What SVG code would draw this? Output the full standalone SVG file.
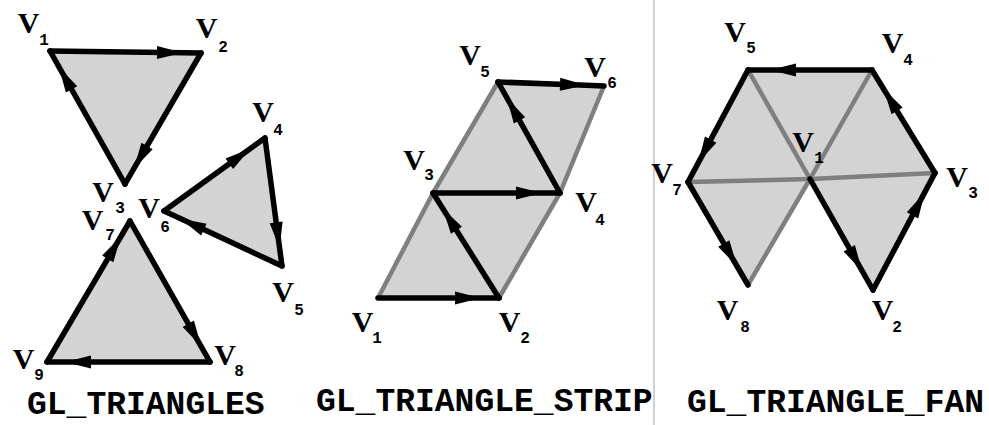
<svg xmlns="http://www.w3.org/2000/svg" width="989" height="425" viewBox="0 0 989 425">
<style>
.fill{fill:#d3d3d3;stroke:none}
.grey{fill:none;stroke:#7f7f7f;stroke-width:4.5;stroke-linecap:round;stroke-linejoin:round}
.blk{fill:none;stroke:#000;stroke-width:5.5;stroke-linecap:round;stroke-linejoin:round;marker-mid:url(#ah)}
.v{font-family:"Liberation Serif",serif;font-weight:bold;font-size:30px;fill:#000;text-anchor:middle}
.s{font-family:"Liberation Mono",monospace;font-weight:bold;font-size:16px;fill:#000;text-anchor:middle}
.t{font-family:"Liberation Mono",monospace;font-weight:bold;font-size:33px;fill:#000}
</style>
<defs>
<marker id="ah" markerUnits="userSpaceOnUse" markerWidth="30" markerHeight="16" refX="26" refY="8" orient="auto" overflow="visible">
<path d="M0,1.5 L26,8 L0,14.5 Z" fill="#000"/>
</marker>
</defs>
<rect width="989" height="425" fill="#fff"/>
<line x1="654" y1="0" x2="654" y2="425" stroke="#d0d0d0" stroke-width="2"/>

<g id="triangles">
<polygon class="fill" points="50,51 201,53 125,184"/>
<polygon class="fill" points="265,138 282,266 164,211"/>
<polygon class="fill" points="130,221 210,362 47,362"/>
</g>
<g id="strip-fill">
<polygon class="fill" points="378,298 499,298 560,193 604,86 498,82 433,193"/>
</g>
<g id="fan-fill">
<polygon class="fill" points="810,179 873,290 935,173 872,70 748,70 688,182 748,285"/>
</g>

<g id="connectors">
<polyline class="grey" points="378,298 433,193 498,82"/>
<polyline class="grey" points="499,298 560,193 604,86"/>
<line class="grey" x1="810" y1="179" x2="935" y2="173"/>
<line class="grey" x1="810" y1="179" x2="872" y2="70"/>
<line class="grey" x1="810" y1="179" x2="748" y2="70"/>
<line class="grey" x1="810" y1="179" x2="688" y2="182"/>
<line class="grey" x1="810" y1="179" x2="748" y2="285"/>

<polyline class="blk" points="50,51 183,52.8 201,53"/>
<polyline class="blk" points="201,53 134,168.4 125,184"/>
<polyline class="blk" points="125,184 58.8,66.7 50,51"/>
<polyline class="blk" points="265,138 279.6,248.2 282,266"/>
<polyline class="blk" points="282,266 180.3,218.6 164,211"/>
<polyline class="blk" points="164,211 250.4,148.5 265,138"/>
<polyline class="blk" points="130,221 201.1,346.3 210,362"/>
<polyline class="blk" points="210,362 65,362 47,362"/>
<polyline class="blk" points="47,362 120.9,236.5 130,221"/>

<polyline class="blk" points="378,298 481,298 499,298"/>
<polyline class="blk" points="499,298 442.6,208.2 433,193"/>
<polyline class="blk" points="433,193 542,193 560,193"/>
<polyline class="blk" points="560,193 506.8,97.7 498,82"/>
<polyline class="blk" points="498,82 586,85.3 604,86"/>

<polyline class="blk" points="810,179 862.1,270.9 873,290"/>
<polyline class="blk" points="873,290 924.7,192.4 935,173"/>
<polyline class="blk" points="935,173 883.5,88.8 872,70"/>
<polyline class="blk" points="872,70 770,70 748,70"/>
<polyline class="blk" points="748,70 698.4,162.6 688,182"/>
<polyline class="blk" points="688,182 736.9,266 748,285"/>
</g>

<g id="labels-triangles">
<text class="v" x="28.5" y="33">V<tspan class="s" x="44" y="45">1</tspan></text>
<text class="v" x="206.5" y="38">V<tspan class="s" x="223" y="52">2</tspan></text>
<text class="v" x="103" y="202">V<tspan class="s" x="120" y="213">3</tspan></text>
<text class="v" x="263" y="122">V<tspan class="s" x="278" y="135">4</tspan></text>
<text class="v" x="283" y="302">V<tspan class="s" x="299" y="315">5</tspan></text>
<text class="v" x="149" y="218">V<tspan class="s" x="165" y="232">6</tspan></text>
<text class="v" x="92.5" y="230">V<tspan class="s" x="110" y="240">7</tspan></text>
<text class="v" x="225" y="365">V<tspan class="s" x="239" y="376">8</tspan></text>
<text class="v" x="23.5" y="369">V<tspan class="s" x="39" y="380">9</tspan></text>
</g>

<g id="labels-strip">
<text class="v" x="362.5" y="332">V<tspan class="s" x="377" y="343">1</tspan></text>
<text class="v" x="509.5" y="332">V<tspan class="s" x="525" y="343">2</tspan></text>
<text class="v" x="414" y="170">V<tspan class="s" x="429" y="180">3</tspan></text>
<text class="v" x="586" y="212">V<tspan class="s" x="600" y="225">4</tspan></text>
<text class="v" x="470" y="65">V<tspan class="s" x="485" y="77">5</tspan></text>
<text class="v" x="595" y="77">V<tspan class="s" x="612" y="88">6</tspan></text>
</g>

<g id="labels-fan">
<text class="v" x="803" y="152">V<tspan class="s" x="819" y="163">1</tspan></text>
<text class="v" x="882.5" y="320">V<tspan class="s" x="897" y="332">2</tspan></text>
<text class="v" x="957" y="187">V<tspan class="s" x="973" y="198">3</tspan></text>
<text class="v" x="892.5" y="53">V<tspan class="s" x="908" y="65">4</tspan></text>
<text class="v" x="735" y="42">V<tspan class="s" x="751" y="53">5</tspan></text>
<text class="v" x="662" y="183">V<tspan class="s" x="677" y="195">7</tspan></text>
<text class="v" x="727.5" y="320">V<tspan class="s" x="745" y="332">8</tspan></text>
</g>

<g id="titles">
<text class="t" x="27" y="414">GL_TRIANGLES</text>
<text class="t" x="316" y="411">GL_TRIANGLE_STRIP</text>
<text class="t" x="687" y="412">GL_TRIANGLE_FAN</text>
</g>
</svg>
